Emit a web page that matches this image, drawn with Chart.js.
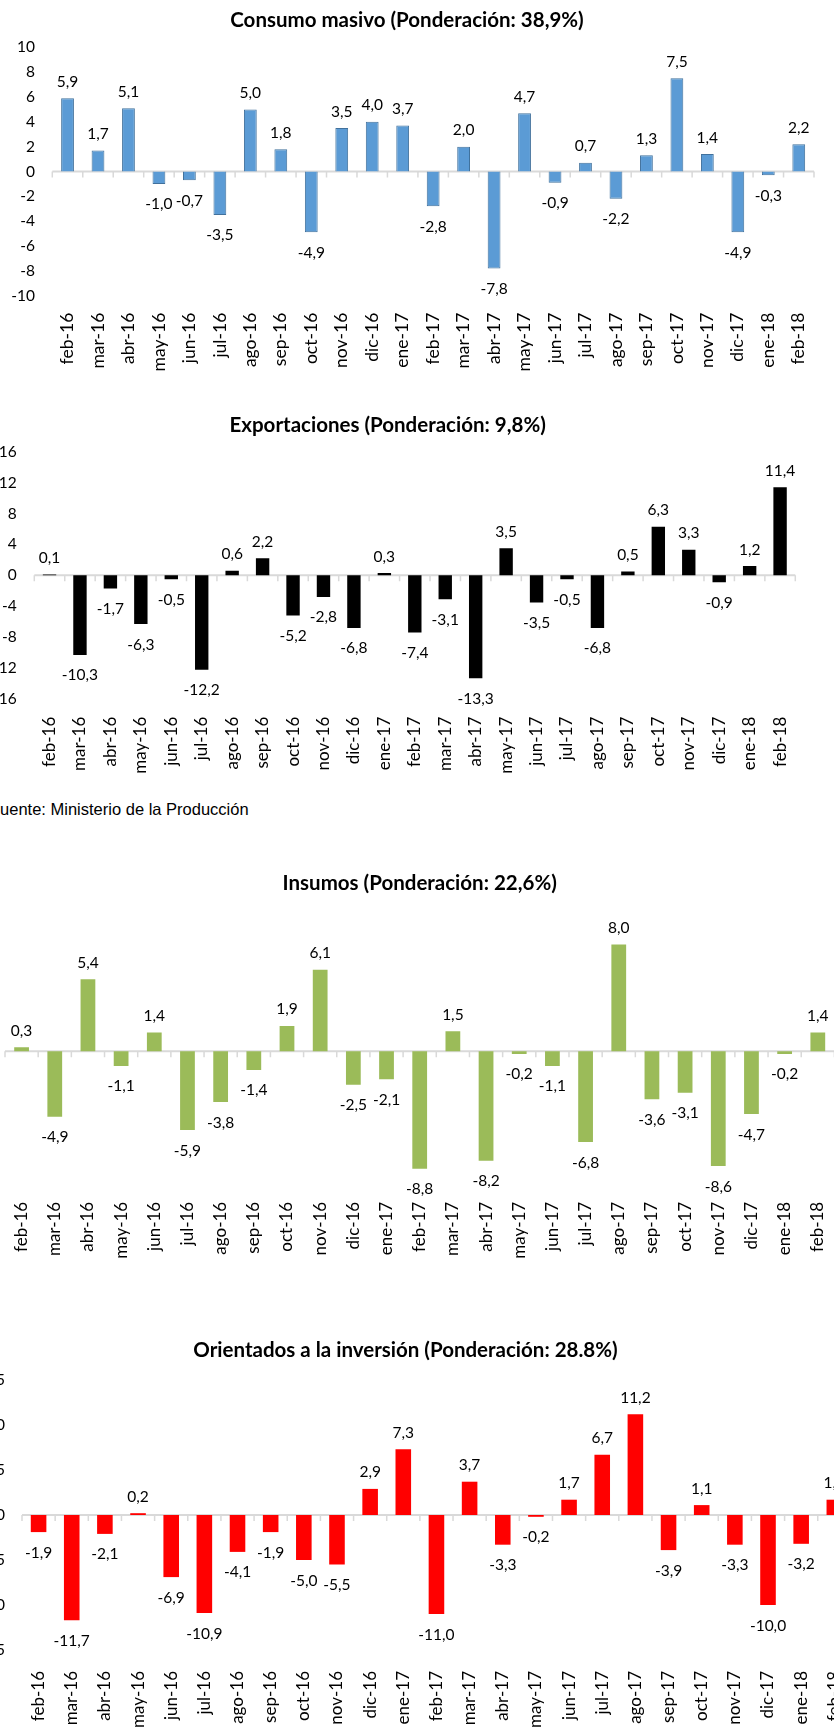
<!DOCTYPE html>
<html lang="es">
<head>
<meta charset="utf-8">
<title>Producción industrial por destino</title>
<script src="https://cdn.jsdelivr.net/npm/chart.js@4.4.1/dist/chart.umd.min.js"></script>
<style>
  html, body { margin: 0; padding: 0; background: #fff; }
  #pagina { position: relative; width: 834px; height: 1727px; overflow: hidden; }
  canvas { position: absolute; }
  .fuente {
    position: absolute; left: -10px; top: 799px;
    font: 16.5px "Liberation Sans", Arial, sans-serif; line-height: 20px;
    color: #000; white-space: nowrap;
  }
</style>
</head>
<body>
<div id="pagina">
  <canvas id="chartConsumo"></canvas>
  <canvas id="chartExportaciones"></canvas>
  <div class="fuente">Fuente: Ministerio de la Producción</div>
  <canvas id="chartInsumos"></canvas>
  <canvas id="chartInversion"></canvas>
</div>
<script>
// Datos: variación (%) por mes
const meses = ["feb-16","mar-16","abr-16","may-16","jun-16","jul-16","ago-16","sep-16","oct-16","nov-16","dic-16","ene-17",
  "feb-17","mar-17","abr-17","may-17","jun-17","jul-17","ago-17","sep-17","oct-17","nov-17","dic-17","ene-18","feb-18"];

const consumoMasivo = [5.9, 1.7, 5.1, -1.0, -0.7, -3.5, 5.0, 1.8, -4.9, 3.5, 4.0, 3.7,
  -2.8, 2.0, -7.8, 4.7, -0.9, 0.7, -2.2, 1.3, 7.5, 1.4, -4.9, -0.3, 2.2];

const exportaciones = [0.1, -10.3, -1.7, -6.3, -0.5, -12.2, 0.6, 2.2, -5.2, -2.8, -6.8, 0.3,
  -7.4, -3.1, -13.3, 3.5, -3.5, -0.5, -6.8, 0.5, 6.3, 3.3, -0.9, 1.2, 11.4];

const insumos = [0.3, -4.9, 5.4, -1.1, 1.4, -5.9, -3.8, -1.4, 1.9, 6.1, -2.5, -2.1,
  -8.8, 1.5, -8.2, -0.2, -1.1, -6.8, 8.0, -3.6, -3.1, -8.6, -4.7, -0.2, 1.4];

const inversion = [-1.9, -11.7, -2.1, 0.2, -6.9, -10.9, -4.1, -1.9, -5.0, -5.5, 2.9, 7.3,
  -11.0, 3.7, -3.3, -0.2, 1.7, 6.7, 11.2, -3.9, 1.1, -3.3, -10.0, -3.2, 1.7];

// rangos del eje y: [min, max, paso]
const ejeConsumo = [-10, 10, 2];
const ejeExportaciones = [-16, 16, 4];
const ejeInsumos = [-10, 10, 2];
const ejeInversion = [-15, 15, 5];

Chart.defaults.font.family = "Lato, 'Open Sans', sans-serif";
Chart.defaults.color = "#000";

// linea del cero con marcas entre categorias
const ejeCero = {
  id: "ejeCero",
  beforeDatasetsDraw(chart) {
    const { ctx, chartArea: a, scales: { x, y } } = chart;
    const y0 = y.getPixelForValue(0);
    const paso = (a.right - a.left) / chart.data.labels.length;
    ctx.save();
    ctx.strokeStyle = "#d9d9d9";
    ctx.lineWidth = 2;
    ctx.beginPath();
    ctx.moveTo(a.left, y0);
    ctx.lineTo(a.right, y0);
    ctx.stroke();
    ctx.lineWidth = 1.5;
    ctx.beginPath();
    for (let i = 0; i <= chart.data.labels.length; i++) {
      const px = x.getPixelForValue(0) - paso / 2 + i * paso;
      ctx.moveTo(px, y0);
      ctx.lineTo(px, y0 + 6);
    }
    ctx.stroke();
    ctx.restore();
  }
};

// etiquetas de valor con coma decimal
const etiquetas = {
  id: "etiquetas",
  afterDatasetsDraw(chart) {
    const ctx = chart.ctx;
    const valores = chart.data.datasets[0].data;
    ctx.save();
    ctx.font = "15.5px Lato";
    ctx.fillStyle = "#000";
    ctx.textAlign = "center";
    ctx.textBaseline = "middle";
    chart.getDatasetMeta(0).data.forEach((barra, i) => {
      const v = valores[i];
      const y = v >= 0 ? barra.y - 16.5 : barra.y + 20.5;
      ctx.fillText(v.toFixed(1).replace(".", ","), barra.x, y);
    });
    ctx.restore();
  }
};

function graficar(id, o) {
  const cv = document.getElementById(id);
  cv.width = o.caja.w;
  cv.height = o.caja.h;
  cv.style.left = o.caja.x + "px";
  cv.style.top = o.caja.y + "px";

  const tLetra = 20.5;
  const lh = tLetra * 1.2;
  const tTop = o.tituloY - o.caja.y - lh / 2;
  const tBottom = o.area.top - o.caja.y - tTop - lh;
  const yAncho = o.area.left - o.caja.x;

  new Chart(cv, {
    type: "bar",
    data: {
      labels: meses,
      datasets: [{
        data: o.datos,
        backgroundColor: o.color,
        borderColor: o.borde || o.color,
        borderWidth: o.borde ? 1 : 0,
        barPercentage: o.barra,
        categoryPercentage: 1
      }]
    },
    options: {
      responsive: false,
      animation: false,
      layout: { padding: { left: o.ejeY ? 0 : yAncho, right: o.caja.x + o.caja.w - o.area.right, top: 0, bottom: 0 } },
      plugins: {
        legend: { display: false },
        tooltip: { enabled: false },
        title: {
          display: true, text: o.titulo, color: "#000",
          font: { size: tLetra, weight: "bold", lineHeight: 1.2 },
          padding: { top: tTop, bottom: tBottom }
        }
      },
      scales: {
        x: {
          grid: { display: false, drawTicks: false },
          border: { display: false },
          ticks: { autoSkip: false, minRotation: 90, maxRotation: 90, padding: o.xPad, font: { size: o.xLetra } },
          afterFit: s => { s.height = o.caja.y + o.caja.h - o.area.bottom; s.paddingLeft = 0; s.paddingRight = 0; }
        },
        y: {
          display: o.ejeY,
          min: o.rango[0], max: o.rango[1],
          grid: { display: false, drawTicks: false },
          border: { display: false },
          ticks: { stepSize: o.rango[2], padding: o.area.left - o.yTexto, font: { size: 15.5 } },
          afterFit: s => { s.width = o.ejeY ? yAncho : 0; s.paddingTop = 0; s.paddingBottom = 0; }
        }
      }
    },
    plugins: [ejeCero, etiquetas]
  });
}

graficar("chartConsumo", {
  titulo: "Consumo masivo (Ponderación: 38,9%)", datos: consumoMasivo, rango: ejeConsumo,
  color: "#5b9bd5", borde: "#41719c", barra: 0.42, ejeY: true,
  caja: { x: 0, y: 0, w: 827, h: 395 }, area: { left: 52.3, right: 814, top: 47.3, bottom: 295.7 },
  tituloY: 20.7, yTexto: 35, xPad: 17, xLetra: 17.5
});

graficar("chartExportaciones", {
  titulo: "Exportaciones (Ponderación: 9,8%)", datos: exportaciones, rango: ejeExportaciones,
  color: "#000000", barra: 0.44, ejeY: true,
  caja: { x: -20, y: 400, w: 833, h: 380 }, area: { left: 34.3, right: 795.3, top: 451.7, bottom: 699 },
  tituloY: 425, yTexto: 16.7, xPad: 17.7, xLetra: 17
});

graficar("chartInsumos", {
  titulo: "Insumos (Ponderación: 22,6%)", datos: insumos, rango: ejeInsumos,
  color: "#9bbb59", barra: 0.445, ejeY: false,
  caja: { x: -40, y: 860, w: 879.2, h: 410 }, area: { left: 5, right: 834.6, top: 917.8, bottom: 1184.8 },
  tituloY: 883, yTexto: 0, xPad: 17, xLetra: 17
});

graficar("chartInversion", {
  titulo: "Orientados a la inversión (Ponderación: 28.8%)", datos: inversion, rango: ejeInversion,
  color: "#ff0000", barra: 0.47, ejeY: true,
  caja: { x: -40, y: 1310, w: 911.4, h: 480 }, area: { left: 22, right: 851.3, top: 1380, bottom: 1650 },
  tituloY: 1350, yTexto: 5, xPad: 21, xLetra: 17
});
</script>
</body>
</html>
